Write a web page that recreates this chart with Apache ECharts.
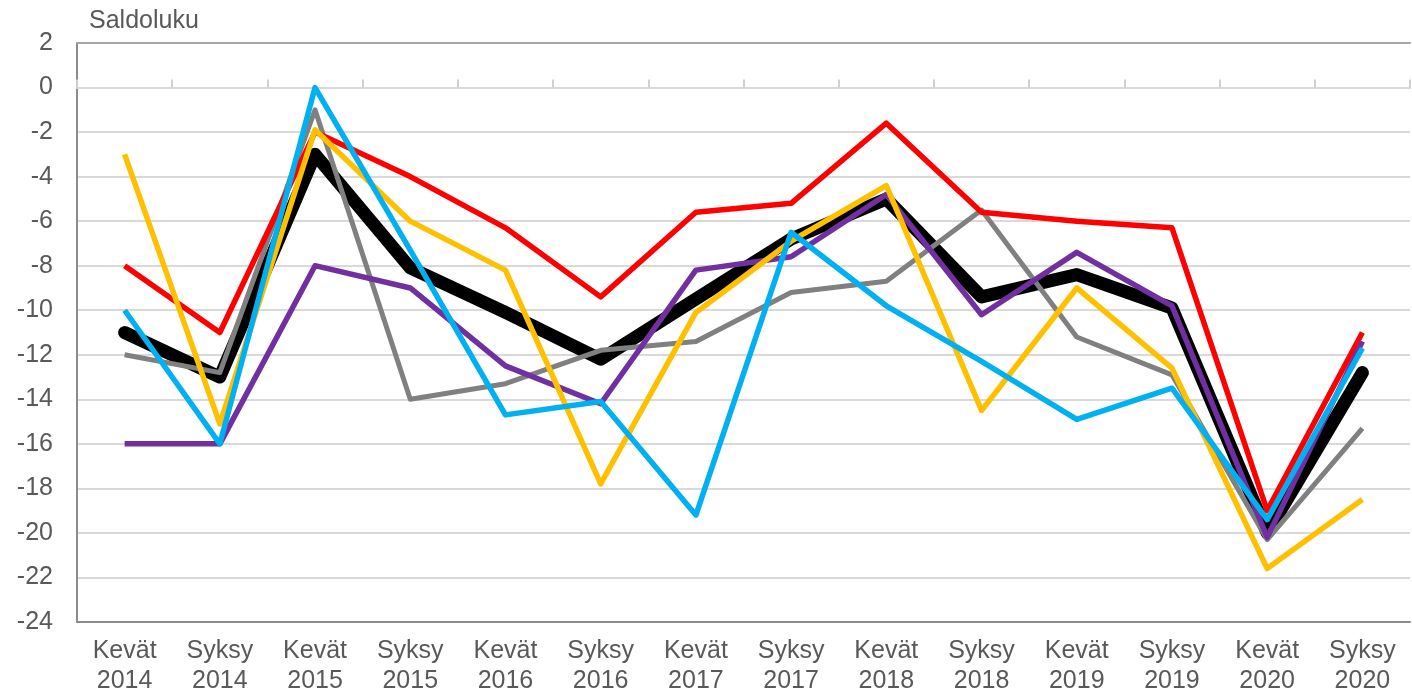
<!DOCTYPE html>
<html>
<head>
<meta charset="utf-8">
<script src="https://cdn.jsdelivr.net/npm/echarts@6/dist/echarts.min.js"></script>
<style>
  html, body { margin: 0; padding: 0; background: #fff; }
  #chart { width: 1412px; height: 696px; }
</style>
</head>
<body>
<div id="chart"></div>
<script>
// kategoriat (kevät / syksy)
const categories = [
  "Kevät\n2014", "Syksy\n2014", "Kevät\n2015", "Syksy\n2015", "Kevät\n2016",
  "Syksy\n2016", "Kevät\n2017", "Syksy\n2017", "Kevät\n2018", "Syksy\n2018",
  "Kevät\n2019", "Syksy\n2019", "Kevät\n2020", "Syksy\n2020"
];

// saldoluvut, luettu kuvasta
const blackValues  = [-11.0, -13.0, -3.0, -8.1, -10.1, -12.2, -9.5, -6.8, -5.0, -9.4, -8.4, -9.9, -20.0, -12.8];
const grayValues   = [-12.0, -12.8, -1.0, -14.0, -13.3, -11.8, -11.4, -9.2, -8.7, -5.5, -11.2, -12.9, -20.3, -15.3];
const redValues    = [-8.0, -11.0, -2.0, -4.0, -6.3, -9.4, -5.6, -5.2, -1.6, -5.6, -6.0, -6.3, -19.0, -11.0];
const purpleValues = [-16.0, -16.0, -8.0, -9.0, -12.5, -14.2, -8.2, -7.6, -4.8, -10.2, -7.4, -9.8, -20.2, -11.4];
const yellowValues = [-3.0, -15.1, -1.9, -6.0, -8.2, -17.8, -10.1, -6.9, -4.4, -14.5, -9.0, -12.6, -21.6, -18.5];
const blueValues   = [-10.0, -16.0, 0.0, -7.3, -14.7, -14.1, -19.2, -6.5, -9.8, -12.3, -14.9, -13.5, -19.4, -11.7];

const yMin = -24;
const yMax = 2;

const chart = echarts.init(document.getElementById("chart"));

const gridTop = 43;
const gridBottom = 74;
const gridHeight = 696 - gridTop - gridBottom;
// nolla-akselin paikka (ylhäältä mitattuna)
const zeroOffset = (yMax - 0) / (yMax - yMin) * gridHeight;

const font = "'Liberation Sans', Arial, sans-serif";

const makeLine = (name, data, color, width, z) => ({
  name: name,
  type: "line",
  data: data,
  symbol: "none",
  z: z,
  lineStyle: {
    color: color,
    width: width,
    join: "round",
    cap: width > 6 ? "round" : "butt",
  },
  emphasis: { disabled: true },
});

const option = {
  animation: false,
  title: {
    text: "Saldoluku",
    left: 84,
    top: 4,
    textStyle: {
      color: "#595959",
      fontSize: 25,
      fontWeight: "normal",
      fontFamily: font,
    },
  },
  grid: {
    left: 77,
    right: 2,
    top: gridTop,
    bottom: gridBottom,
  },
  xAxis: [
    {
      type: "category",
      data: categories,
      position: "bottom",
      boundaryGap: true,
      axisLine: { onZero: false, lineStyle: { color: "#8c8c8c", width: 2 } },
      axisTick: { show: false },
      axisLabel: {
        color: "#595959",
        fontSize: 25,
        fontFamily: font,
        lineHeight: 30,
        margin: 14,
        interval: 0,
      },
      splitLine: { show: false },
    },
    {
      // nolla-viiva jaksomerkeillä
      type: "category",
      data: categories,
      position: "top",
      offset: -zeroOffset,
      boundaryGap: true,
      axisLine: { onZero: false, lineStyle: { color: "#d9d9d9", width: 2 } },
      axisTick: { show: true, length: 8, lineStyle: { color: "#d0d0d0", width: 2 } },
      axisLabel: { show: false },
      splitLine: { show: false },
    },
    {
      // yläreuna
      type: "category",
      data: categories,
      position: "top",
      offset: 0,
      axisLine: { onZero: false, lineStyle: { color: "#a6a6a6", width: 2 } },
      axisTick: { show: false },
      axisLabel: { show: false },
      splitLine: { show: false },
    },
  ],
  yAxis: {
    type: "value",
    min: yMin,
    max: yMax,
    interval: 2,
    axisLine: { show: true, lineStyle: { color: "#8c8c8c", width: 2 } },
    axisTick: { show: false },
    axisLabel: {
      color: "#595959",
      fontSize: 25,
      fontFamily: font,
      margin: 24,
    },
    splitLine: {
      show: true,
      lineStyle: { color: "#d9d9d9", width: 2 },
    },
  },
  series: [
    makeLine("musta", blackValues, "#000000", 13, 2),
    makeLine("harmaa", grayValues, "#808080", 5, 3),
    makeLine("punainen", redValues, "#ff0000", 5.5, 4),
    makeLine("violetti", purpleValues, "#7030a0", 5.5, 5),
    makeLine("keltainen", yellowValues, "#ffc000", 5.5, 6),
    makeLine("sininen", blueValues, "#00b0f0", 5.5, 7),
  ],
};

chart.setOption(option);
</script>
</body>
</html>
